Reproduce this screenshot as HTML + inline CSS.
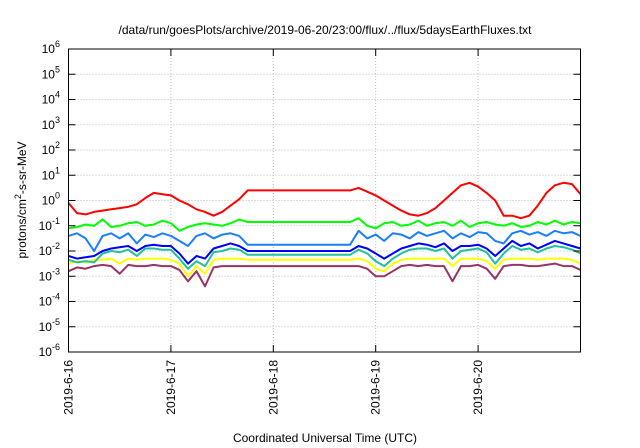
<!DOCTYPE html>
<html><head><meta charset="utf-8"><style>
body{margin:0;background:#fff}
svg{display:block;font-family:"Liberation Sans",sans-serif}
</style></head><body>
<svg id="chart" width="640" height="448" viewBox="0 0 640 448">
<text x="325" y="34" font-size="12" text-anchor="middle">/data/run/goesPlots/archive/2019-06-20/23:00/flux/../flux/5daysEarthFluxes.txt</text>
<g id="grid"></g><g id="series"></g><g id="axes"></g>
<text x="325" y="442" font-size="12" text-anchor="middle">Coordinated Universal Time (UTC)</text>
<text transform="translate(26,200) rotate(-90)" font-size="12" text-anchor="middle">protons/cm<tspan dy="-5" font-size="9">2</tspan><tspan dy="5">-s-sr-MeV</tspan></text>
</svg>
<script>
const hours=[0,2,4,6,8,10,12,14,16,18,20,22,24,26,28,30,32,34,36,38,40,42,66,68,70,72,74,76,78,80,82,84,86,88,90,92,94,96,98,100,102,104,106,108,110,112,114,116,118,120];
const dayLabels=["2019-6-16","2019-6-17","2019-6-18","2019-6-19","2019-6-20"];
const yTickExps=[6,5,4,3,2,1,0,-1,-2,-3,-4,-5,-6];
const red=[-0.1,-0.5,-0.55,-0.45,-0.4,-0.35,-0.3,-0.25,-0.15,0.1,0.3,0.25,0.2,0.0,-0.15,-0.35,-0.45,-0.6,-0.45,-0.2,0.05,0.4,0.4,0.5,0.35,0.2,0.0,-0.2,-0.4,-0.55,-0.6,-0.5,-0.3,0.0,0.3,0.6,0.7,0.55,0.3,0.0,-0.6,-0.6,-0.7,-0.6,-0.2,0.3,0.6,0.7,0.65,0.25];
const green=[-1.1,-1.05,-0.95,-1.0,-0.75,-1.05,-1.0,-0.9,-0.85,-1.0,-0.95,-0.8,-0.9,-1.2,-1.05,-0.95,-0.9,-0.95,-1.0,-0.9,-0.75,-0.85,-0.85,-0.7,-1.0,-1.1,-0.9,-0.85,-1.0,-0.95,-0.8,-1.0,-0.9,-0.85,-1.0,-0.8,-1.05,-0.9,-0.85,-0.95,-1.0,-0.9,-1.05,-1.0,-0.85,-0.95,-0.8,-0.95,-0.85,-0.9];
const ltblue=[-1.4,-1.3,-1.5,-2.0,-1.4,-1.3,-1.5,-1.3,-1.7,-1.35,-1.45,-1.3,-1.4,-1.6,-1.8,-1.4,-1.3,-1.5,-1.35,-1.3,-1.4,-1.75,-1.75,-1.2,-1.5,-1.35,-1.6,-1.3,-1.35,-1.5,-1.25,-1.4,-1.3,-1.2,-1.5,-1.3,-1.45,-1.25,-1.3,-1.6,-1.7,-1.3,-1.2,-1.35,-1.25,-1.4,-1.2,-1.3,-1.25,-1.4];
const blue=[-2.2,-2.3,-2.25,-2.2,-2.0,-1.9,-1.85,-1.8,-2.0,-1.8,-1.75,-1.8,-1.8,-2.1,-2.5,-2.2,-2.3,-1.9,-1.8,-1.7,-1.8,-2.0,-2.0,-1.8,-1.9,-2.1,-2.3,-2.1,-1.9,-1.8,-1.7,-1.75,-1.85,-1.7,-2.0,-1.8,-1.8,-1.75,-1.9,-2.2,-1.9,-1.6,-1.8,-1.7,-1.9,-1.75,-1.6,-1.7,-1.8,-1.9];
const teal=[-2.35,-2.45,-2.4,-2.45,-2.1,-2.0,-2.05,-1.95,-2.2,-1.9,-1.9,-1.95,-1.95,-2.3,-2.7,-2.4,-2.6,-2.05,-2.0,-1.9,-1.95,-2.15,-2.15,-1.95,-2.1,-2.4,-2.6,-2.3,-2.1,-1.95,-1.9,-1.9,-2.0,-1.9,-2.3,-2.0,-1.95,-1.9,-2.05,-2.5,-2.1,-1.8,-1.95,-1.9,-2.05,-1.9,-1.8,-1.85,-1.95,-2.1];
const yellow=[-2.5,-2.4,-2.45,-2.35,-2.35,-2.3,-2.5,-2.3,-2.35,-2.3,-2.3,-2.3,-2.35,-2.5,-3.0,-2.6,-2.9,-2.35,-2.3,-2.3,-2.3,-2.35,-2.35,-2.3,-2.4,-2.7,-2.8,-2.5,-2.35,-2.3,-2.3,-2.3,-2.3,-2.3,-2.6,-2.3,-2.3,-2.3,-2.4,-2.7,-2.35,-2.3,-2.3,-2.3,-2.35,-2.3,-2.3,-2.3,-2.35,-2.5];
const purple=[-2.8,-2.65,-2.7,-2.6,-2.55,-2.6,-2.9,-2.55,-2.6,-2.6,-2.55,-2.6,-2.6,-2.75,-3.2,-2.8,-3.4,-2.65,-2.6,-2.6,-2.6,-2.6,-2.6,-2.6,-2.7,-3.0,-3.0,-2.8,-2.6,-2.55,-2.6,-2.55,-2.6,-2.6,-3.2,-2.6,-2.6,-2.55,-2.7,-3.1,-2.6,-2.55,-2.55,-2.6,-2.6,-2.55,-2.5,-2.6,-2.6,-2.75];

const NS="http://www.w3.org/2000/svg";
const L=68.5,R=580.5,T=49,B=352;
function xs(h){return L+(R-L)*h/120;}
function ys(e){return T+(B-T)*(6-e)/12;}
function mk(tag,attrs,parent){const el=document.createElementNS(NS,tag);for(const k in attrs)el.setAttribute(k,attrs[k]);parent.appendChild(el);return el;}
const grid=document.getElementById('grid'),axes=document.getElementById('axes'),ser=document.getElementById('series');
yTickExps.forEach(e=>{
  const y=ys(e);
  if(e<6&&e>-6){const g=mk('line',{x1:L,x2:R,y1:y,y2:y,stroke:'#bbb','stroke-dasharray':'1,2','stroke-width':1},grid);
  
  }
  mk('line',{x1:L,x2:L+7,y1:y,y2:y,stroke:'#000'},axes);
  mk('line',{x1:R,x2:R-7,y1:y,y2:y,stroke:'#000'},axes);
  const t=mk('text',{x:60,y:y+4,'font-size':12,'text-anchor':'end'},axes);
  
  
  t.textContent='10';
  const s=mk('tspan',{dy:-6,'font-size':9},t);s.textContent=String(e);
});
dayLabels.forEach((d,i)=>{
  const x=xs(i*24);
  if(i>0){const g=mk('line',{x1:x,x2:x,y1:T,y2:B,stroke:'#bbb','stroke-dasharray':'1,2'},grid);
  
  }
  mk('line',{x1:x,x2:x,y1:B,y2:B-7,stroke:'#000'},axes);
  mk('line',{x1:x,x2:x,y1:T,y2:T+7,stroke:'#000'},axes);
  const t=mk('text',{transform:`translate(${x+4},360) rotate(-90)`,'font-size':12,'text-anchor':'end'},axes);
  
  
  t.textContent=d;
});
const fr=mk('rect',{x:L,y:T,width:R-L,height:B-T,fill:'none',stroke:'#000','stroke-width':1},axes);


const seriesList=[[purple,'#993366','purple'],[yellow,'#ffff00','yellow'],[teal,'#20c0a0','teal'],[blue,'#0000ff','blue'],[ltblue,'#1a7fff','light-blue'],[green,'#00ff00','green'],[red,'#ff0000','red']];
seriesList.forEach(([vals,col,nm])=>{
  const pts=vals.map((v,i)=>xs(hours[i]).toFixed(1)+','+ys(v).toFixed(1)).join(' ');
  const p=mk('polyline',{points:pts,fill:'none',stroke:col,'stroke-width':2,'stroke-linejoin':'round'},ser);
  
  
});
</script>
</body></html>
